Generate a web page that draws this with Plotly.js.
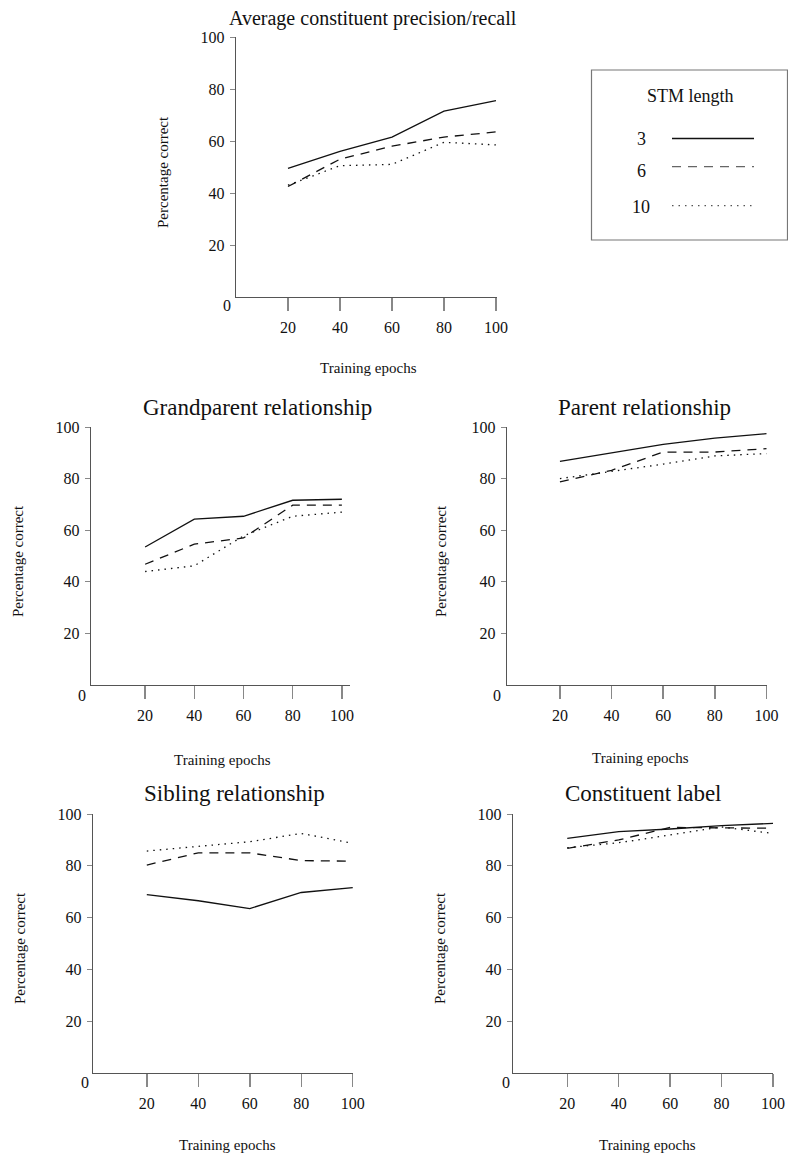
<!DOCTYPE html>
<html><head><meta charset="utf-8">
<script src="https://cdn.plot.ly/plotly-3.0.1.min.js"></script>
<style>html,body{margin:0;padding:0;background:#fff}#chart{width:788px;height:1156px}</style>
</head><body><div id="chart"></div>
<script>
// ---- data ----
const epochs = [20, 40, 60, 80, 100];
const yTicks = [20, 40, 60, 80, 100];
const stmLengths = ['3', '6', '10'];
const panelTitles = ['Average constituent precision/recall', 'Grandparent relationship', 'Parent relationship', 'Sibling relationship', 'Constituent label'];
const xAxisTitle = 'Training epochs';
const yAxisTitle = 'Percentage correct';
const legendTitle = 'STM length';

const avg_stm3  = [49.5, 56.0, 61.5, 71.5, 75.5];
const avg_stm6  = [42.5, 53.0, 58.0, 61.5, 63.5];
const avg_stm10 = [43.0, 50.5, 51.0, 59.5, 58.5];

const grand_stm3  = [53.5, 64.3, 65.4, 71.6, 72.0];
const grand_stm6  = [46.8, 54.6, 57.0, 69.7, 69.7];
const grand_stm10 = [44.0, 46.2, 57.8, 65.4, 67.0];

const parent_stm3  = [86.7, 90.0, 93.3, 95.7, 97.4];
const parent_stm6  = [78.7, 83.2, 90.3, 90.3, 91.6];
const parent_stm10 = [80.0, 82.8, 85.6, 88.8, 89.7];

const sibling_stm3  = [68.9, 66.5, 63.5, 69.7, 71.6];
const sibling_stm6  = [80.3, 85.0, 85.0, 82.0, 81.8];
const sibling_stm10 = [85.7, 87.4, 89.3, 92.5, 88.7];

const label_stm3  = [90.6, 93.2, 94.2, 95.5, 96.4];
const label_stm6  = [86.7, 90.0, 94.8, 94.7, 94.5];
const label_stm10 = [87.0, 88.9, 91.9, 95.0, 92.5];

const panelSeries = [
  [avg_stm3, avg_stm6, avg_stm10],
  [grand_stm3, grand_stm6, grand_stm10],
  [parent_stm3, parent_stm6, parent_stm10],
  [sibling_stm3, sibling_stm6, sibling_stm10],
  [label_stm3, label_stm6, label_stm10]
];

// ---- layout helpers (pixel positions) ----
const W = 788, H = 1156;
const FONT = '"Liberation Serif", "Times New Roman", Times, serif';
const px = x => x / W;
const py = y => 1 - y / H;

// plot boxes [left, right, top, bottom] and x ranges
const boxes = [
  {l: 236, r: 497, t: 37,  b: 297,  xr: [0, 100.4]},
  {l: 91,  r: 350, t: 427, b: 685,  xr: [-2, 103.3]},
  {l: 507, r: 767, t: 427, b: 685,  xr: [-0.5, 100.2]},
  {l: 93,  r: 353, t: 814, b: 1073, xr: [-0.9, 100.1]},
  {l: 513, r: 773, t: 814, b: 1073, xr: [-1.1, 100]}
];
const titlePos  = [[373, 18], [257, 407], [644, 407], [235, 793], [643, 793]];
const titleSize = [20, 23, 23, 23, 23];
const yTitlePos = [[163, 172], [18, 561], [441, 561], [20, 948], [440, 948]];
const xTitlePos = [[368, 368], [222, 760], [640, 758], [227, 1145], [647, 1145]];
const zeroPos   = [[227, 306], [82, 695], [497, 695], [85, 1082], [506, 1082]];

const dashes = ['solid', '9px,7px', '1.5px,5px'];

const traces = [];
const layout = {
  width: W, height: H,
  margin: {l: 0, r: 0, t: 0, b: 0},
  paper_bgcolor: '#fff', plot_bgcolor: '#fff',
  showlegend: false,
  font: {family: FONT, color: '#111'},
  annotations: [], shapes: []
};

boxes.forEach((bx, i) => {
  const n = i + 1;
  const xa = n === 1 ? 'x' : 'x' + n;
  const ya = n === 1 ? 'y' : 'y' + n;
  panelSeries[i].forEach((vals, k) => {
    traces.push({
      type: 'scatter', mode: 'lines', x: epochs, y: vals,
      xaxis: xa, yaxis: ya, name: stmLengths[k],
      line: {color: '#111', width: 1.3, dash: dashes[k]},
      hoverinfo: 'skip'
    });
  });
  layout['xaxis' + (n === 1 ? '' : n)] = {
    domain: [px(bx.l), px(bx.r)], anchor: ya, range: bx.xr,
    tickmode: 'array', tickvals: epochs, ticktext: epochs.map(String),
    ticks: 'outside', ticklen: 13, tickwidth: 1.5, tickcolor: '#888',
    ticklabelstandoff: 2,
    showline: true, linecolor: '#555', linewidth: 1.3,
    showgrid: false, zeroline: false,
    tickfont: {family: FONT, size: 16, color: '#111'}
  };
  layout['yaxis' + (n === 1 ? '' : n)] = {
    domain: [py(bx.b), py(bx.t)], anchor: xa, range: [0, 100],
    tickmode: 'array', tickvals: yTicks, ticktext: yTicks.map(String),
    ticks: 'outside', ticklen: 5, tickwidth: 1, tickcolor: '#888',
    ticklabelstandoff: 2,
    showline: true, linecolor: '#555', linewidth: 1.3,
    showgrid: false, zeroline: false,
    tickfont: {family: FONT, size: 16, color: '#111'}
  };
  layout.annotations.push({
    xref: 'paper', yref: 'paper', x: px(titlePos[i][0]), y: py(titlePos[i][1]),
    text: panelTitles[i], showarrow: false, xanchor: 'center', yanchor: 'middle',
    font: {family: FONT, size: titleSize[i], color: '#111'}
  });
  layout.annotations.push({
    xref: 'paper', yref: 'paper', x: px(yTitlePos[i][0]), y: py(yTitlePos[i][1]),
    text: yAxisTitle, showarrow: false, textangle: -90, xanchor: 'center', yanchor: 'middle',
    font: {family: FONT, size: 15, color: '#111'}
  });
  layout.annotations.push({
    xref: 'paper', yref: 'paper', x: px(xTitlePos[i][0]), y: py(xTitlePos[i][1]),
    text: xAxisTitle, showarrow: false, xanchor: 'center', yanchor: 'middle',
    font: {family: FONT, size: 15, color: '#111'}
  });
  layout.annotations.push({
    xref: 'paper', yref: 'paper', x: px(zeroPos[i][0]), y: py(zeroPos[i][1]),
    text: '0', showarrow: false, xanchor: 'center', yanchor: 'middle',
    font: {family: FONT, size: 16, color: '#111'}
  });
});

// ---- legend box (drawn manually: label left, line sample right) ----
layout.shapes.push({
  type: 'rect', xref: 'paper', yref: 'paper',
  x0: px(591.5), x1: px(787.5), y0: py(240), y1: py(70),
  line: {color: '#777', width: 1.2}, fillcolor: 'rgba(0,0,0,0)'
});
layout.annotations.push({
  xref: 'paper', yref: 'paper', x: px(690), y: py(96), text: legendTitle,
  showarrow: false, xanchor: 'center', yanchor: 'middle',
  font: {family: FONT, size: 18, color: '#111'}
});
const legRows = [[139, 138.5, '#111'], [171, 166.7, '#666'], [206.5, 205.7, '#555']];
stmLengths.forEach((s, k) => {
  layout.annotations.push({
    xref: 'paper', yref: 'paper', x: px(641), y: py(legRows[k][0]), text: s,
    showarrow: false, xanchor: 'center', yanchor: 'middle',
    font: {family: FONT, size: 18, color: '#111'}
  });
  layout.shapes.push({
    type: 'line', xref: 'paper', yref: 'paper',
    x0: px(672), x1: px(754), y0: py(legRows[k][1]), y1: py(legRows[k][1]),
    line: {color: legRows[k][2], width: 1.3, dash: dashes[k]}
  });
});

Plotly.newPlot('chart', traces, layout, {staticPlot: true, displayModeBar: false});
</script>
</body></html>
